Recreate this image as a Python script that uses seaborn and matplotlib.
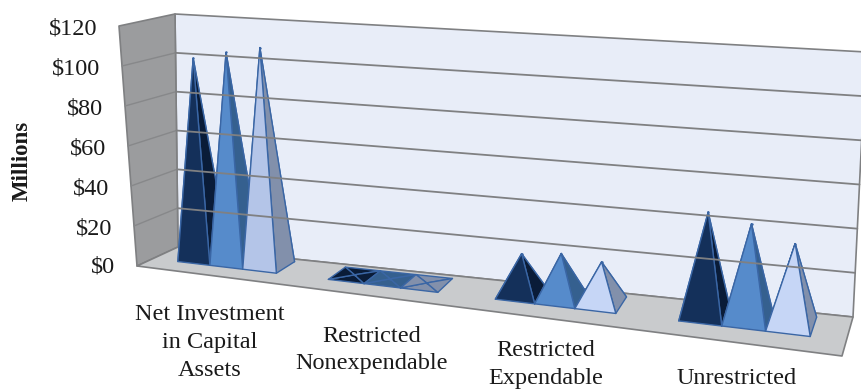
import numpy as np
import pandas as pd
import matplotlib
matplotlib.use("Agg")
import matplotlib.pyplot as plt
from matplotlib.patches import Polygon
import seaborn as sns

# Net position by category, three fiscal years, in millions of dollars
categories = ["Net Investment\nin Capital\nAssets", "Restricted\nNonexpendable",
              "Restricted\nExpendable", "Unrestricted"]
series_a = [101, 0.2, 19, 46.5]
series_b = [105, 0.2, 21, 43]
series_c = [108.5, 0.2, 19, 36]
y_ticks = [0, 20, 40, 60, 80, 100, 120]
y_labels = ["$0", "$20", "$40", "$60", "$80", "$100", "$120"]

sns.set_theme(style="white")
plt.rcParams["font.family"] = ["Liberation Serif", "DejaVu Serif"]

front_faces = sns.color_palette(["#14305a", "#568bcb", "#b4c5e8"])
side_faces = sns.color_palette(["#0a1c38", "#35608f", "#8290ab"])
pale_front = "#c6d6f6"
edge_color = "#3a66a5"
grid_color = "#7f8082"
side_grid_color = "#87888a"
text_color = "#1a1a1a"

# Corners of the 3D chart box on the canvas: (position, depth, value)
CORNERS = {
    (0, 0, 0): (137, 266), (0, 1, 0): (178, 247),
    (0, 0, 1): (119, 26), (0, 1, 1): (175, 14),
    (1, 0, 0): (842, 356), (1, 1, 0): (853, 317),
    (1, 0, 1): (862, 71), (1, 1, 1): (866, 52),
}
V_MAX = 120.0


def project(u, d, v):
    """Trilinear projection of box coordinates onto the canvas."""
    w = v / V_MAX
    p = np.zeros(2)
    for (cu, cd, cv), xy in CORNERS.items():
        p += np.array(xy) * (u if cu else 1 - u) * (d if cd else 1 - d) * (w if cv else 1 - w)
    return p


def warp(t):
    """Foreshortening along the category axis."""
    return 0.002 + 0.805 * t + 0.19 * t ** 2


fig = plt.figure(figsize=(8.61, 3.92), dpi=100)
ax = fig.add_axes([0, 0, 1, 1])
ax.set_xlim(0, 861)
ax.set_ylim(392, 0)
ax.axis("off")

# Walls and floor
wall_kw = dict(edgecolor=grid_color, linewidth=1.2, joinstyle="round")
ax.add_patch(Polygon([project(0, 1, 0), project(1, 1, 0), project(1, 1, V_MAX), project(0, 1, V_MAX)],
                     facecolor="#e8edf8", **wall_kw))
ax.add_patch(Polygon([project(0, 0, 0), project(0, 1, 0), project(0, 1, V_MAX), project(0, 0, V_MAX)],
                     facecolor="#9b9c9e", **wall_kw))
ax.add_patch(Polygon([project(0, 0, 0), project(1, 0, 0), project(1, 1, 0), project(0, 1, 0)],
                     facecolor="#c9cbcd", **wall_kw))

# Gridlines across both walls
for tick in y_ticks[1:-1]:
    side = np.array([project(0, 0, tick), project(0, 1, tick)])
    back = np.array([project(0, 1, tick), project(1, 1, tick)])
    ax.plot(side[:, 0], side[:, 1], color=side_grid_color, lw=1.0)
    ax.plot(back[:, 0], back[:, 1], color=grid_color, lw=1.3)

# Value axis follows the slant of the side wall
for tick, label in zip(y_ticks, y_labels):
    anchor = project(0, 0, tick)
    ax.text(anchor[0] - 22, anchor[1] + (1 if tick == 0 else 2.5), label, ha="right", va="center",
            fontsize=17.5, color=text_color)
ax.text(22, 161, "Millions", rotation=90, ha="center", va="center",
        fontsize=16.5, fontweight="bold", color=text_color)

# Category labels stepped down along the front edge of the floor
label_x = [210, 372, 546, 737]
label_y = [315, 336, 351, 379]
for name, cx, top in zip(categories, label_x, label_y):
    for j, line in enumerate(name.split("\n")):
        ax.text(cx, top + j * 27.8, line, ha="center", va="center",
                fontsize=17.5, color=text_color)

# Pyramids, drawn left to right so nearer faces overlap
records = []
group_width = 2 / 3
depth_front, depth_back = 0.39, 0.9
for i, values in enumerate(zip(series_a, series_b, series_c)):
    for s, value in enumerate(values):
        left = (i + 0.5 - group_width / 2 + s * group_width / 3) / 4
        right = left + group_width / 3 / 4
        ul, ur = warp(left), warp(right)
        a = project(ul, depth_front, 0)
        b = project(ur, depth_front, 0)
        c = project(ur, depth_back, 0)
        d = project(ul, depth_back, 0)
        apex = project((ul + ur) / 2, (depth_front + depth_back) / 2, value)
        # The left side of the box leans further than its corners alone give
        apex[0] -= value / V_MAX * 6 * (1 - ul)

        face_kw = dict(edgecolor=edge_color, linewidth=1.0, joinstyle="round")
        front = pale_front if (s == 2 and i >= 2) else front_faces[s]
        faces = [([d, c, apex], side_faces[s]), ([a, d, apex], side_faces[s]),
                 ([b, c, apex], side_faces[s]), ([a, b, apex], front)]
        if value < 1:
            # A flat pyramid shows only its darker faces from above
            faces = [([a, b, apex], side_faces[s])] + faces[:3]
        for corners, colour in faces:
            ax.add_patch(Polygon(corners, facecolor=colour, **face_kw))
        records.append({"x": apex[0], "y": apex[1], "series": s})

# Small caps on the pyramid tips
tips = pd.DataFrame(records)
sns.scatterplot(data=tips, x="x", y="y", color=edge_color, s=3, linewidth=0,
                legend=False, ax=ax, zorder=10)
ax.set_xlim(0, 861)
ax.set_ylim(392, 0)
ax.axis("off")

fig.savefig("out.png", dpi=100)
